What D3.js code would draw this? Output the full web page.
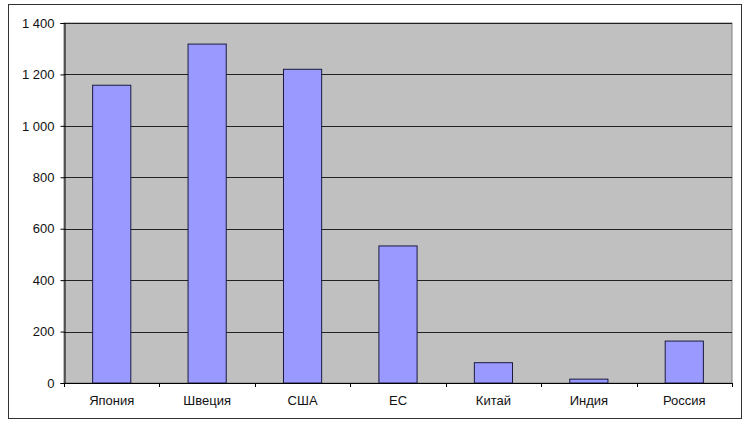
<!DOCTYPE html>
<html><head><meta charset="utf-8">
<script src="https://cdn.jsdelivr.net/npm/d3@7"></script>
<style>html,body{margin:0;padding:0;background:#fff;}text{font-family:"Liberation Sans",Arial,sans-serif;}</style>
</head><body>
<svg id="c" width="750" height="426"></svg>
<script>
const categories = ["Япония","Швеция","США","ЕС","Китай","Индия","Россия"];
const values = [1158, 1318, 1220, 533, 79, 15, 163];
const yTicks = [0,200,400,600,800,1000,1200,1400];

const svg = d3.select("#c");
const L = 64, R = 732, T = 23, B = 383;

svg.append("rect").attr("x",8.5).attr("y",4.5).attr("width",733).attr("height",414)
  .attr("fill","#fff").attr("stroke","#333").attr("stroke-width",1);

const x = d3.scaleBand().domain(categories).range([L,R]).paddingInner(0).paddingOuter(0);
const y = d3.scaleLinear().domain([0,1400]).range([B,T]);

svg.append("rect").attr("x",L).attr("y",T).attr("width",R-L).attr("height",B-T)
  .attr("fill","#C0C0C0").attr("stroke","#808080").attr("stroke-width",1);

svg.append("g").selectAll("line").data(yTicks.filter(d=>d>0)).join("line")
  .attr("x1",L).attr("x2",R).attr("y1",d=>Math.round(y(d))+0.5).attr("y2",d=>Math.round(y(d))+0.5)
  .attr("stroke","#222").attr("stroke-width",1);

const fmt = d => d3.format(",")(d).replace(/,/g," ");
const yAxis = d3.axisLeft(y).tickValues(yTicks).tickFormat(fmt).tickSize(4).tickPadding(6);
const gy = svg.append("g").attr("transform",`translate(${L+0.5},0)`).call(yAxis);
gy.select(".domain").attr("stroke","#000");
gy.selectAll(".tick line").attr("stroke","#000");
gy.selectAll("text").attr("font-size","13px").attr("fill","#111").attr("font-family","Liberation Sans, Arial, sans-serif");

const bw = x.bandwidth()/2.5;
svg.append("g").selectAll("rect").data(values).join("rect")
  .attr("x",(d,i)=>x(categories[i])+(x.bandwidth()-bw)/2)
  .attr("y",d=>y(d)).attr("width",bw).attr("height",d=>B-y(d))
  .attr("fill","#9999FF").attr("stroke","#1a1a40").attr("stroke-width",1);

// x axis
svg.append("line").attr("x1",L).attr("x2",R).attr("y1",B+0.5).attr("y2",B+0.5).attr("stroke","#000");
const bounds = categories.map(c=>x(c)).concat([R]);
svg.append("g").selectAll("line").data(bounds).join("line")
  .attr("x1",d=>Math.round(d)+0.5).attr("x2",d=>Math.round(d)+0.5).attr("y1",B).attr("y2",B+4).attr("stroke","#000");
svg.append("g").selectAll("text").data(categories).join("text")
  .attr("x",d=>x(d)+x.bandwidth()/2).attr("y",405).attr("text-anchor","middle")
  .attr("font-size","13px").attr("fill","#111").text(d=>d);
</script>
</body></html>
